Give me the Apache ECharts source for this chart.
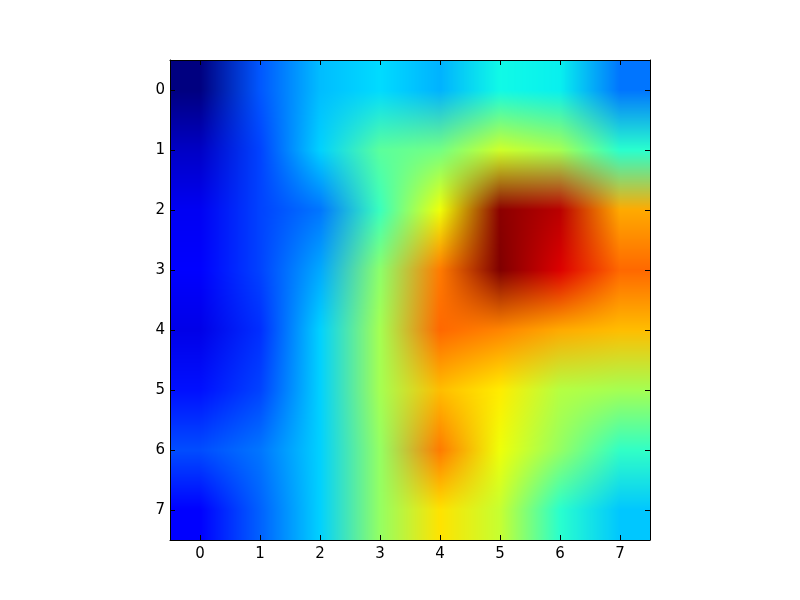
<!DOCTYPE html>
<html>

<head>
  <meta charset="utf-8">
  <title>Image Plot</title>
  <script src="https://cdn.jsdelivr.net/npm/echarts@6/dist/echarts.min.js"></script>
</head>

<body style="margin:0;background:#fff">
  <div id="main" style="width:800px;height:600px"></div>
  <script type="text/javascript">
    var colLabels = ['0', '1', '2', '3', '4', '5', '6', '7'];
    var rowLabels = ['0', '1', '2', '3', '4', '5', '6', '7'];

    // cell values, scaled 0..1 at the cell centres
    var row0 = [0.00, 0.21, 0.31, 0.34, 0.30, 0.37, 0.36, 0.24];
    var row1 = [0.06, 0.19, 0.33, 0.46, 0.49, 0.60, 0.55, 0.40];
    var row2 = [0.10, 0.19, 0.24, 0.42, 0.64, 0.99, 0.95, 0.73];
    var row3 = [0.11, 0.19, 0.29, 0.52, 0.78, 1.00, 0.92, 0.80];
    var row4 = [0.09, 0.17, 0.33, 0.55, 0.80, 0.77, 0.73, 0.71];
    var row5 = [0.14, 0.19, 0.33, 0.55, 0.71, 0.66, 0.57, 0.55];
    var row6 = [0.20, 0.24, 0.33, 0.53, 0.78, 0.64, 0.53, 0.41];
    var row7 = [0.11, 0.22, 0.33, 0.53, 0.67, 0.59, 0.40, 0.32];
    var rows = [row0, row1, row2, row3, row4, row5, row6, row7];

    var cells = [];
    rows.forEach(function (row, y) {
      row.forEach(function (v, x) {
        cells.push([x, y, v]);
      });
    });

    // jet colormap
    function piece(pts, v) {
      for (var i = 1; i < pts.length; i++) {
        if (v <= pts[i][0]) {
          var t = (v - pts[i - 1][0]) / (pts[i][0] - pts[i - 1][0]);
          return pts[i - 1][1] + t * (pts[i][1] - pts[i - 1][1]);
        }
      }
      return pts[pts.length - 1][1];
    }
    var jetR = [[0, 0], [0.35, 0], [0.66, 1], [0.89, 1], [1, 0.5]];
    var jetG = [[0, 0], [0.125, 0], [0.375, 1], [0.64, 1], [0.91, 0], [1, 0]];
    var jetB = [[0, 0.5], [0.11, 1], [0.34, 1], [0.65, 0], [1, 0]];
    function jet(v) {
      return [piece(jetR, v) * 255, piece(jetG, v) * 255, piece(jetB, v) * 255];
    }
    var colors = rows.map(function (row) { return row.map(jet); });

    function clampIdx(i) {
      return Math.max(0, Math.min(rows.length - 1, i));
    }

    // one cell drawn as a small bitmap, colours blended towards the neighbour cells
    function cellImage(cx, cy, w, h) {
      var canvas = document.createElement('canvas');
      canvas.width = w;
      canvas.height = h;
      var ctx = canvas.getContext('2d');
      var img = ctx.createImageData(w, h);
      for (var py = 0; py < h; py++) {
        var fy = cy + (py + 0.5) / h - 0.5;
        var y0 = Math.floor(fy), ty = fy - y0;
        for (var px = 0; px < w; px++) {
          var fx = cx + (px + 0.5) / w - 0.5;
          var x0 = Math.floor(fx), tx = fx - x0;
          var a = colors[clampIdx(y0)][clampIdx(x0)];
          var b = colors[clampIdx(y0)][clampIdx(x0 + 1)];
          var c = colors[clampIdx(y0 + 1)][clampIdx(x0)];
          var d = colors[clampIdx(y0 + 1)][clampIdx(x0 + 1)];
          var k = (py * w + px) * 4;
          for (var n = 0; n < 3; n++) {
            img.data[k + n] = (a[n] * (1 - tx) + b[n] * tx) * (1 - ty) + (c[n] * (1 - tx) + d[n] * tx) * ty;
          }
          img.data[k + 3] = 255;
        }
      }
      ctx.putImageData(img, 0, 0);
      return canvas;
    }

    function renderCell(params, api) {
      var cx = api.value(0), cy = api.value(1);
      var center = api.coord([cx, cy]);
      var size = api.size([1, 1]);
      return {
        type: 'image',
        style: {
          image: cellImage(cx, cy, size[0], size[1]),
          x: center[0] - size[0] / 2,
          y: center[1] - size[1] / 2,
          width: size[0],
          height: size[1]
        }
      };
    }

    var lineStyle = { color: '#000', width: 1 };
    var tickStyle = { show: true, inside: true, alignWithLabel: true, length: 5, lineStyle: lineStyle };

    function xAxisAt(position, showLabel) {
      return {
        type: 'category', data: colLabels, position: position, z: 5,
        axisLine: { show: true, lineStyle: lineStyle }, axisTick: tickStyle,
        axisLabel: { show: showLabel, color: '#000', fontFamily: 'DejaVu Sans', fontSize: 15, margin: 7 },
        splitLine: { show: false }
      };
    }
    function yAxisAt(position, showLabel) {
      return {
        type: 'category', data: rowLabels, position: position, inverse: true, z: 5,
        axisLine: { show: true, lineStyle: lineStyle }, axisTick: tickStyle,
        axisLabel: { show: showLabel, color: '#000', fontFamily: 'DejaVu Sans', fontSize: 15, margin: 5 },
        splitLine: { show: false }
      };
    }

    var myChart = echarts.init(document.getElementById('main'), null, { renderer: 'canvas' });
    myChart.setOption({
      animation: false,
      backgroundColor: '#fff',
      grid: { left: 170, top: 60, width: 480, height: 480 },
      xAxis: [xAxisAt('bottom', true), xAxisAt('top', false)],
      yAxis: [yAxisAt('left', true), yAxisAt('right', false)],
      series: [{
        type: 'custom',
        data: cells,
        encode: { x: 0, y: 1 },
        renderItem: renderCell,
        silent: true
      }]
    });
  </script>
</body>

</html>
